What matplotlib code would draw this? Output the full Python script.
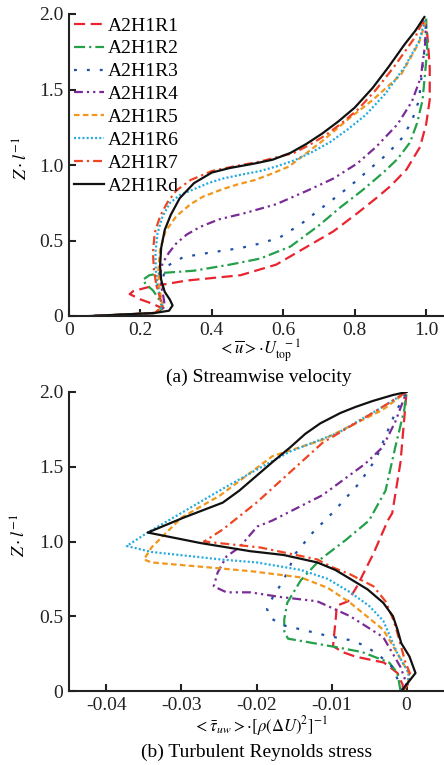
import matplotlib
matplotlib.use("Agg")
import matplotlib.pyplot as plt

plt.rcParams['font.family'] = ['Liberation Serif', 'DejaVu Serif']
plt.rcParams['mathtext.fontset'] = 'stix'

labels = ["A2H1R1", "A2H1R2", "A2H1R3", "A2H1R4", "A2H1R5", "A2H1R6", "A2H1R7", "A2H1Rd"]
colors = ["#E8242F", "#23A04A", "#1E50A8", "#7A2C96", "#F2961C", "#22AADD", "#F04523", "#111111"]

# ---------- panel (a): streamwise velocity ----------
a_R1_x = [0.07, 0.16, 0.24, 0.262, 0.235, 0.20, 0.17, 0.18, 0.22, 0.28, 0.33, 0.395, 0.48, 0.58, 0.667, 0.74, 0.807, 0.86, 0.90, 0.945, 0.983, 1.0, 1.01, 1.01, 1.003, 0.99]
a_R1_z = [0.0, 0.01, 0.02, 0.05, 0.08, 0.11, 0.145, 0.165, 0.19, 0.215, 0.235, 0.25, 0.27, 0.34, 0.46, 0.56, 0.68, 0.78, 0.86, 0.97, 1.12, 1.27, 1.43, 1.65, 1.87, 1.97]
a_R2_x = [0.07, 0.16, 0.24, 0.262, 0.255, 0.235, 0.215, 0.207, 0.225, 0.26, 0.35, 0.45, 0.535, 0.62, 0.70, 0.76, 0.82, 0.88, 0.92, 0.955, 0.975, 0.99, 1.003, 1.0]
a_R2_z = [0.0, 0.01, 0.02, 0.05, 0.10, 0.17, 0.21, 0.24, 0.27, 0.285, 0.30, 0.34, 0.38, 0.46, 0.60, 0.72, 0.83, 0.95, 1.04, 1.15, 1.28, 1.43, 1.76, 1.97]
a_R3_x = [0.07, 0.16, 0.24, 0.268, 0.265, 0.262, 0.265, 0.274, 0.32, 0.395, 0.48, 0.535, 0.59, 0.65, 0.71, 0.76, 0.807, 0.845, 0.88, 0.91, 0.933, 0.96, 0.98, 0.995, 1.0]
a_R3_z = [0.0, 0.01, 0.02, 0.06, 0.12, 0.20, 0.27, 0.33, 0.39, 0.42, 0.45, 0.48, 0.52, 0.61, 0.72, 0.81, 0.90, 0.98, 1.05, 1.12, 1.18, 1.29, 1.43, 1.76, 1.96]
a_R4_x = [0.07, 0.16, 0.24, 0.268, 0.265, 0.258, 0.255, 0.262, 0.28, 0.30, 0.33, 0.367, 0.42, 0.49, 0.58, 0.667, 0.74, 0.807, 0.86, 0.92, 0.96, 0.985, 0.997, 1.0]
a_R4_z = [0.0, 0.01, 0.02, 0.06, 0.12, 0.20, 0.28, 0.35, 0.42, 0.48, 0.54, 0.59, 0.64, 0.68, 0.74, 0.83, 0.91, 1.01, 1.12, 1.27, 1.42, 1.58, 1.80, 1.96]
a_R5_x = [0.07, 0.16, 0.24, 0.262, 0.258, 0.252, 0.25, 0.255, 0.27, 0.30, 0.34, 0.375, 0.43, 0.47, 0.52, 0.565, 0.616, 0.66, 0.71, 0.78, 0.85, 0.93, 0.98, 1.0]
a_R5_z = [0.0, 0.01, 0.02, 0.06, 0.12, 0.20, 0.30, 0.44, 0.56, 0.66, 0.74, 0.79, 0.84, 0.87, 0.90, 0.94, 0.99, 1.07, 1.16, 1.30, 1.43, 1.60, 1.81, 1.96]
a_R6_x = [0.07, 0.16, 0.24, 0.262, 0.255, 0.248, 0.243, 0.242, 0.248, 0.262, 0.283, 0.31, 0.35, 0.39, 0.43, 0.48, 0.535, 0.58, 0.63, 0.68, 0.73, 0.78, 0.83, 0.885, 0.94, 0.98, 0.997]
a_R6_z = [0.0, 0.01, 0.02, 0.06, 0.12, 0.20, 0.30, 0.42, 0.55, 0.66, 0.75, 0.80, 0.84, 0.88, 0.91, 0.935, 0.96, 0.99, 1.03, 1.085, 1.15, 1.235, 1.33, 1.47, 1.65, 1.82, 1.96]
a_R7_x = [0.07, 0.16, 0.24, 0.262, 0.255, 0.245, 0.238, 0.235, 0.24, 0.255, 0.275, 0.30, 0.34, 0.40, 0.46, 0.53, 0.58, 0.63, 0.675, 0.72, 0.765, 0.81, 0.86, 0.91, 0.97, 0.995]
a_R7_z = [0.0, 0.01, 0.02, 0.06, 0.12, 0.20, 0.30, 0.42, 0.55, 0.66, 0.75, 0.83, 0.90, 0.96, 0.99, 1.02, 1.05, 1.08, 1.135, 1.20, 1.28, 1.37, 1.50, 1.65, 1.85, 1.97]
a_Rd_x = [0.06, 0.15, 0.24, 0.28, 0.29, 0.282, 0.268, 0.258, 0.255, 0.258, 0.268, 0.285, 0.31, 0.35, 0.40, 0.45, 0.52, 0.57, 0.62, 0.665, 0.71, 0.755, 0.80, 0.85, 0.895, 0.94, 0.97, 0.995]
a_Rd_z = [0.0, 0.01, 0.02, 0.035, 0.07, 0.11, 0.16, 0.24, 0.33, 0.45, 0.57, 0.67, 0.78, 0.88, 0.95, 0.98, 1.01, 1.035, 1.08, 1.14, 1.21, 1.29, 1.38, 1.51, 1.65, 1.80, 1.89, 1.98]

# ---------- panel (b): turbulent Reynolds stress ----------
b_R1_x = [-0.0005, -0.0005, -0.0012, -0.003, -0.0068, -0.0085, -0.0098, -0.0096, -0.0094, -0.0093, -0.0078, -0.0066, -0.0055, -0.0044, -0.0025, -0.0019, -0.0008, -0.0002, 0.0]
b_R1_z = [0.0, 0.04, 0.12, 0.19, 0.23, 0.26, 0.30, 0.40, 0.50, 0.57, 0.60, 0.70, 0.81, 0.92, 1.14, 1.19, 1.53, 1.88, 2.0]
b_R2_x = [-0.0008, -0.0009, -0.0012, -0.0023, -0.0059, -0.0090, -0.0135, -0.0158, -0.0163, -0.0163, -0.0159, -0.0141, -0.0115, -0.0081, -0.005, -0.0028, -0.0015, -0.0003, 0.0]
b_R2_z = [0.0, 0.03, 0.12, 0.19, 0.26, 0.29, 0.33, 0.35, 0.40, 0.48, 0.59, 0.74, 0.88, 1.01, 1.14, 1.34, 1.63, 1.88, 2.0]
b_R3_x = [-0.0005, -0.0012, -0.0019, -0.0039, -0.0059, -0.0075, -0.0106, -0.0139, -0.0165, -0.0182, -0.0186, -0.0178, -0.0164, -0.0155, -0.0148, -0.0125, -0.0099, -0.0063, -0.0041, -0.0015, 0.0]
b_R3_z = [0.0, 0.08, 0.16, 0.25, 0.31, 0.34, 0.37, 0.41, 0.44, 0.49, 0.55, 0.63, 0.74, 0.84, 0.92, 1.06, 1.19, 1.39, 1.55, 1.86, 2.0]
b_R4_x = [-0.0005, 0.0, -0.0008, -0.0031, -0.0075, -0.0119, -0.017, -0.0208, -0.024, -0.0257, -0.0252, -0.024, -0.0223, -0.0199, -0.0179, -0.0112, -0.0055, -0.0032, -0.0015, 0.0]
b_R4_z = [0.0, 0.05, 0.16, 0.36, 0.50, 0.60, 0.63, 0.66, 0.66, 0.70, 0.79, 0.90, 0.96, 1.10, 1.14, 1.31, 1.52, 1.63, 1.80, 2.0]
b_R5_x = [-0.0005, 0.0002, 0.0003, -0.0012, -0.0031, -0.0075, -0.0105, -0.0141, -0.0205, -0.0248, -0.034, -0.035, -0.034, -0.030, -0.0248, -0.0179, -0.0112, -0.0032, 0.0]
b_R5_z = [0.0, 0.05, 0.12, 0.25, 0.41, 0.59, 0.69, 0.76, 0.80, 0.82, 0.86, 0.88, 0.96, 1.16, 1.31, 1.57, 1.68, 1.88, 2.0]
b_R6_x = [-0.0005, 0.0002, 0.0003, -0.0012, -0.0031, -0.005, -0.0075, -0.0105, -0.0141, -0.0200, -0.0248, -0.034, -0.0373, -0.0345, -0.0297, -0.0246, -0.020, -0.0156, -0.009, -0.0032, 0.0]
b_R6_z = [0.0, 0.05, 0.12, 0.25, 0.47, 0.57, 0.66, 0.75, 0.81, 0.86, 0.88, 0.93, 0.97, 1.06, 1.20, 1.35, 1.48, 1.60, 1.73, 1.90, 2.0]
b_R7_x = [-0.0005, 0.0003, 0.0006, -0.0002, -0.001, -0.0017, -0.0028, -0.0044, -0.0075, -0.0100, -0.0119, -0.0195, -0.027, -0.0245, -0.020, -0.0156, -0.0112, -0.0045, 0.0]
b_R7_z = [0.0, 0.05, 0.10, 0.20, 0.35, 0.47, 0.60, 0.70, 0.78, 0.83, 0.88, 0.96, 1.00, 1.08, 1.26, 1.46, 1.66, 1.86, 2.0]
b_Rd_x = [-0.0005, 0.0001, 0.0012, 0.0004, -0.0007, -0.0012, -0.0018, -0.0031, -0.0052, -0.0075, -0.0095, -0.0119, -0.0164, -0.0208, -0.0275, -0.0345, -0.0297, -0.0245, -0.0223, -0.0179, -0.0155, -0.0135, -0.0115, -0.0088, -0.0068, -0.0045, -0.0018, 0.0]
b_Rd_z = [0.01, 0.05, 0.12, 0.23, 0.32, 0.41, 0.50, 0.59, 0.68, 0.75, 0.81, 0.86, 0.91, 0.935, 0.99, 1.06, 1.16, 1.26, 1.34, 1.53, 1.63, 1.72, 1.79, 1.86, 1.90, 1.94, 1.98, 2.0]

a_x = [a_R1_x, a_R2_x, a_R3_x, a_R4_x, a_R5_x, a_R6_x, a_R7_x, a_Rd_x]
a_z = [a_R1_z, a_R2_z, a_R3_z, a_R4_z, a_R5_z, a_R6_z, a_R7_z, a_Rd_z]
b_x = [b_R1_x, b_R2_x, b_R3_x, b_R4_x, b_R5_x, b_R6_x, b_R7_x, b_Rd_x]
b_z = [b_R1_z, b_R2_z, b_R3_z, b_R4_z, b_R5_z, b_R6_z, b_R7_z, b_Rd_z]

a_xticks = [0, 0.2, 0.4, 0.6, 0.8, 1.0]
a_xticklabels = ["0", "0.2", "0.4", "0.6", "0.8", "1.0"]
b_xticks = [-0.04, -0.03, -0.02, -0.01, 0]
b_xticklabels = ["-0.04", "-0.03", "-0.02", "-0.01", "0"]
yticks = [0, 0.5, 1.0, 1.5, 2.0]
yticklabels = ["0", "0.5", "1.0", "1.5", "2.0"]

dash_styles = [(5, 2.5), (5, 1.8, 1, 1.8), (1.3, 4.5), (4, 1.8, 1, 1.8, 1, 1.8),
               (2.5, 1.5), (0.9, 1.0), (4, 1.8, 1, 1.8), None]

W, H = 444, 765
fig = plt.figure(figsize=(W / 100, H / 100), dpi=100)

def px_rect(l, t, r, b):
    return [l / W, 1 - b / H, (r - l) / W, (b - t) / H]

ax_a = fig.add_axes(px_rect(69, 14, 444, 316))
ax_b = fig.add_axes(px_rect(69, 392, 444, 691))

handles = []
for i in range(8):
    kw = dict(color=colors[i], lw=1.6)
    if dash_styles[i] is None:
        kw['linestyle'] = '-'
    else:
        kw['dashes'] = dash_styles[i]
    ln, = ax_a.plot(a_x[i], a_z[i], label=labels[i], **kw)
    ax_b.plot(b_x[i], b_z[i], **kw)
    handles.append(ln)

for ax in (ax_a, ax_b):
    ax.set_ylim(0, 2.0)
    ax.set_yticks(yticks)
    ax.set_yticklabels(yticklabels)
    for s in ('top', 'right'):
        ax.spines[s].set_visible(False)
    for s in ('left', 'bottom'):
        ax.spines[s].set_linewidth(1.5)
        ax.spines[s].set_color('#222222')
    ax.tick_params(direction='in', length=5, width=1.5, labelsize=14, pad=4, colors='#222222')

ax_a.set_xlim(0, 1.05)
ax_a.set_xticks(a_xticks)
ax_a.set_xticklabels(a_xticklabels)
ax_b.set_xlim(-0.045, 0.005)
ax_b.set_xticks(b_xticks)
ax_b.set_xticklabels(b_xticklabels)

ax_a.legend(handles=handles, loc='upper left', bbox_to_anchor=(74 / W, 1 - 17 / H),
            bbox_transform=fig.transFigure, frameon=False, fontsize=14,
            handlelength=1.55, handletextpad=0.2, labelspacing=0.27,
            borderpad=0, borderaxespad=0)

fig.text(22 / W, 1 - 158 / H, r'$Z\cdot l^{-1}$', rotation=90, ha='center', va='center', fontsize=13)
fig.text(20 / W, 1 - 535 / H, r'$Z\cdot l^{-1}$', rotation=90, ha='center', va='center', fontsize=13)
fig.text(259 / W, 1 - 351 / H, r'$<\overline{u}>\cdot U_{\mathrm{top}}^{\ \ -1}$', ha='center', va='center', fontsize=12)
fig.text(259 / W, 1 - 377 / H, '(a) Streamwise velocity', ha='center', va='center', fontsize=14)
fig.text(260 / W, 1 - 726 / H, r'$<\bar{\tau}_{uw}>\cdot[\rho(\Delta U)^2]^{-1}$', ha='center', va='center', fontsize=12)
fig.text(257 / W, 1 - 752 / H, '(b) Turbulent Reynolds stress', ha='center', va='center', fontsize=14)

fig.savefig('out.png', dpi=100)
